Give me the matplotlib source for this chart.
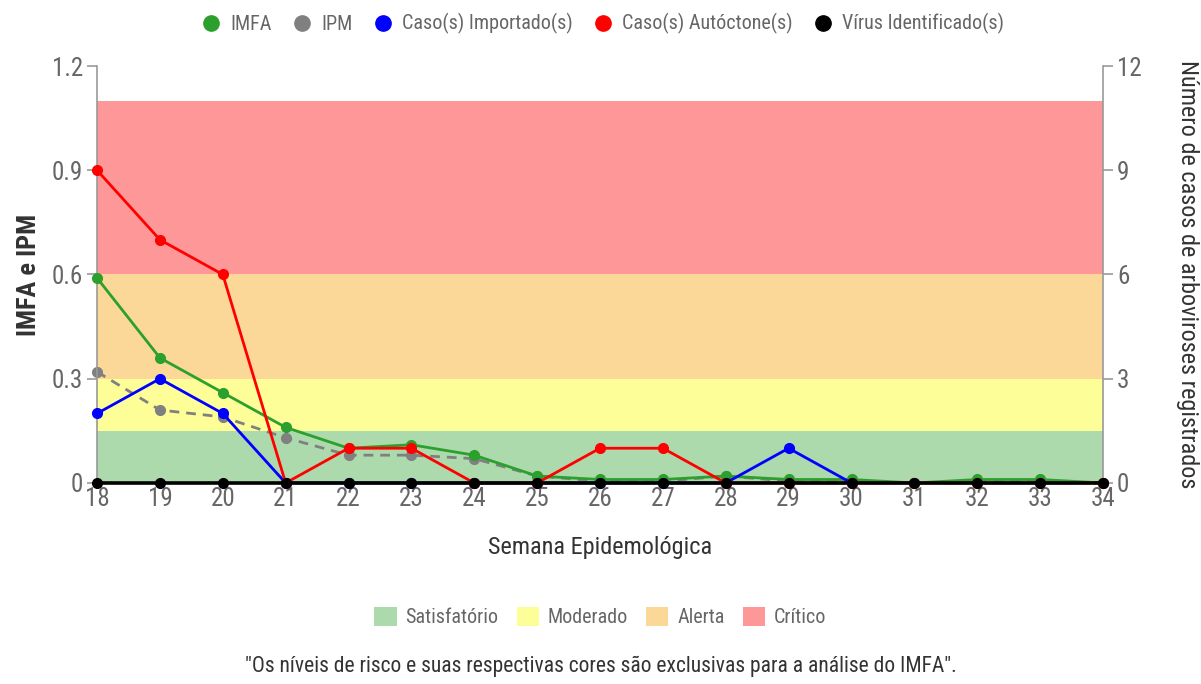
import matplotlib
matplotlib.use("Agg")
import matplotlib.pyplot as plt
from matplotlib.lines import Line2D
from matplotlib.patches import Patch

plt.rcParams['font.family'] = ['Roboto Condensed', 'Liberation Sans Narrow', 'Roboto', 'DejaVu Sans']

weeks = list(range(18, 35))
imfa = [0.59, 0.36, 0.26, 0.16, 0.10, 0.11, 0.08, 0.02, 0.01, 0.01, 0.02, 0.01, 0.01, 0.0, 0.01, 0.01, 0.0]
ipm = [0.32, 0.21, 0.19, 0.13, 0.08, 0.08, 0.07, 0.02, 0.005, 0.005, 0.02, 0.005, 0.005, 0.0, 0.005, 0.005, 0.0]
importados = [2, 3, 2, 0, 0, 0, 0, 0, 0, 0, 0, 1, 0]
autoctones = [9, 7, 6, 0, 1, 1, 0, 0, 1, 1, 0, 0, 0, 0, 0, 0, 0]
virus = [0] * 17

risk_levels = ["Satisfatório", "Moderado", "Alerta", "Crítico"]
risk_bounds = [0.0, 0.15, 0.3, 0.6, 1.1]
risk_colors = ["#acdaac", "#fefe98", "#fcd898", "#fe9898"]

series_labels = ["IMFA", "IPM", "Caso(s) Importado(s)", "Caso(s) Autóctone(s)", "Vírus Identificado(s)"]
series_colors = ["#2ca02c", "#808080", "#0000ff", "#ff0000", "#000000"]

tick_gray = "#666666"
label_dark = "#333333"

fig = plt.figure(figsize=(12.01, 6.84), dpi=100)
ax = fig.add_axes([0.0808, 0.2939, 0.8376, 0.6096])
ax2 = ax.twinx()

for lo, hi, c in zip(risk_bounds[:-1], risk_bounds[1:], risk_colors):
    ax.axhspan(lo, hi, color=c, lw=0, zorder=0)

lw = 2.0
ms = 7
ax.plot(weeks, imfa, color=series_colors[0], lw=lw, marker='o', ms=ms, zorder=3, clip_on=False)
ax.plot(weeks, ipm, color=series_colors[1], lw=lw, ls=(0, (3.5, 2.5)), marker='o', ms=ms, zorder=2, clip_on=False)

ax2.plot(weeks[:len(importados)], importados, color=series_colors[2], lw=lw, marker='o', ms=ms, zorder=3, clip_on=False)
ax2.plot(weeks, autoctones, color=series_colors[3], lw=lw, marker='o', ms=ms, zorder=4, clip_on=False)
ax2.plot(weeks, virus, color=series_colors[4], lw=2.6, marker='o', ms=ms, zorder=5, clip_on=False)

ax.set_xlim(18, 34)
ax.set_ylim(0, 1.2)
ax2.set_ylim(0, 12)
ax.set_xticks(weeks)
ax.set_yticks([0, 0.3, 0.6, 0.9, 1.2])
ax.set_yticklabels(["0", "0.3", "0.6", "0.9", "1.2"])
ax2.set_yticks([0, 3, 6, 9, 12])

for a in (ax, ax2):
    for s in ("top", "bottom"):
        a.spines[s].set_visible(False)
    a.spines["left"].set_color("#999999")
    a.spines["right"].set_color("#999999")
    a.spines["left"].set_linewidth(1.2)
    a.spines["right"].set_linewidth(1.2)
    a.tick_params(axis='y', colors="#999999", length=7, width=1.2, labelsize=18, labelcolor=tick_gray, pad=3)
    a.tick_params(axis='x', length=0, labelsize=18, labelcolor=tick_gray, pad=3)
ax2.spines["left"].set_visible(False)
ax.spines["right"].set_visible(False)

ax.set_xlabel("Semana Epidemológica", fontsize=17.5, color=label_dark, labelpad=18)
ax.set_ylabel("IMFA e IPM", fontsize=19, fontweight='bold', color=label_dark, labelpad=8)
ax2.set_ylabel("Número de casos de arboviroses registrados", fontsize=17.5, color=label_dark,
               rotation=270, labelpad=41)

top_handles = [Line2D([], [], ls='none', marker='o', ms=11, color=c) for c in series_colors]
fig.legend(top_handles, series_labels, loc='center', bbox_to_anchor=(0.5, 0.965), ncol=5,
           frameon=False, fontsize=14.5, labelcolor=tick_gray, handletextpad=0.25, columnspacing=0.8,
           handlelength=1.4)

risk_handles = [Patch(facecolor=c, edgecolor='none') for c in risk_colors]
fig.legend(risk_handles, risk_levels, loc='center', bbox_to_anchor=(0.5, 0.098), ncol=4,
           frameon=False, fontsize=14.5, labelcolor=tick_gray, handlelength=1.1, handleheight=1.1,
           handletextpad=0.45, columnspacing=0.9)

fig.text(0.5, 0.025, "\"Os níveis de risco e suas respectivas cores são exclusivas para a análise do IMFA\".",
         ha='center', va='center', fontsize=15.5, color=label_dark)

fig.savefig("out.png", dpi=100, facecolor="white")
